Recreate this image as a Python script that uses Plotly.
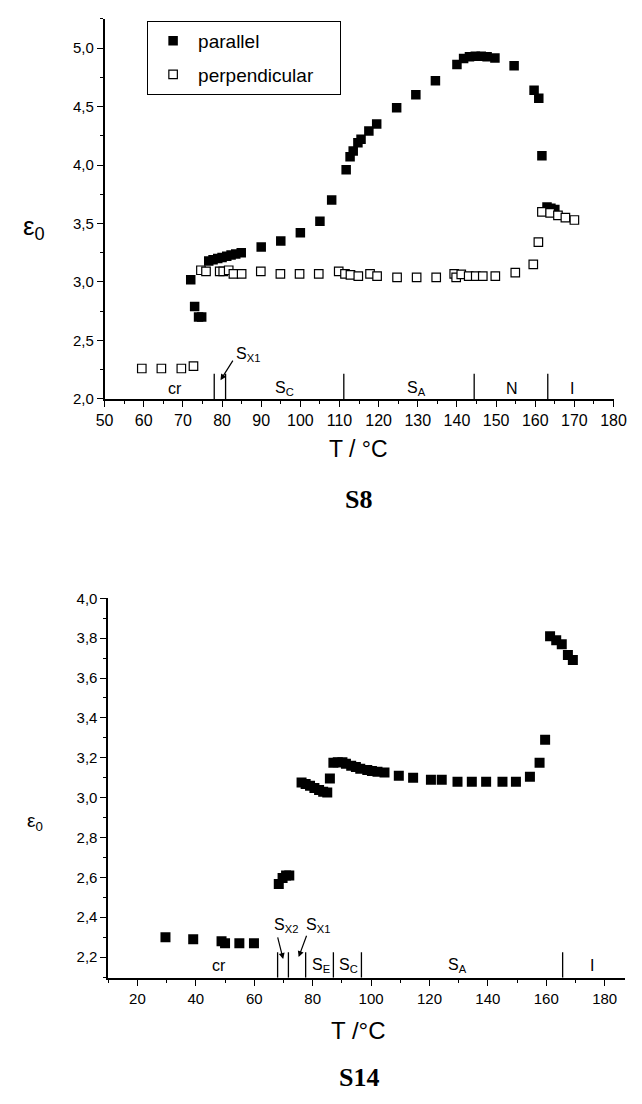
import plotly.graph_objects as go

# ---------------- data: S8 ----------------
s8_par_T = [72, 73, 74, 74.8, 76.6, 77.7, 78.9, 80.0, 81.2, 82.3, 83.5, 84.9, 90, 95, 100, 105, 108,
            111.7, 112.7, 113.5, 114.7, 115.5, 117.5, 119.5, 124.6, 129.5, 134.5, 140, 141.7, 143.2,
            144.7, 146.2, 147.7, 149.7, 154.6, 159.7, 160.9, 161.7, 163, 164, 165]
s8_par_E = [3.02, 2.79, 2.70, 2.70, 3.18, 3.19, 3.20, 3.21, 3.22, 3.23, 3.24, 3.25, 3.30, 3.35, 3.42, 3.52, 3.70,
            3.96, 4.07, 4.12, 4.19, 4.22, 4.29, 4.35, 4.49, 4.60, 4.72, 4.86, 4.91, 4.925,
            4.93, 4.93, 4.925, 4.915, 4.85, 4.64, 4.57, 4.08, 3.64, 3.63, 3.62]

s8_perp_T = [59.5, 64.5, 69.6, 72.7, 74.6, 75.9, 79.4, 80.3, 81.7, 82.9, 85.0, 89.9, 94.9, 99.8, 104.7,
             109.8, 111.4, 112.8, 114.8, 117.8, 119.6, 124.7, 129.7, 134.7, 139.3, 139.8, 141.1, 143.0,
             144.8, 146.6, 149.8, 154.9, 159.5, 160.8, 161.7, 163.8, 165.8, 167.7, 170.0]
s8_perp_E = [2.26, 2.26, 2.26, 2.28, 3.10, 3.09, 3.09, 3.09, 3.10, 3.07, 3.07, 3.09, 3.07, 3.07, 3.07,
             3.09, 3.07, 3.06, 3.05, 3.07, 3.05, 3.04, 3.04, 3.04, 3.07, 3.04, 3.065, 3.05,
             3.05, 3.05, 3.05, 3.08, 3.15, 3.34, 3.60, 3.59, 3.57, 3.55, 3.53]

s8_phase_T = [78.0, 80.9, 111.1, 144.4, 163.2]
s8_phase_labels = ["cr", "S<sub>C</sub>", "S<sub>A</sub>", "N", "I"]
s8_label_T = [68, 96, 129.7, 154, 169.3]

# ---------------- data: S14 ----------------
s14_T = [29.6, 39.1, 48.8, 50.0, 54.9, 59.9, 68.4, 69.7, 70.9, 72.0, 76.2, 77.6, 79.1, 80.6, 82.2, 83.6,
         85.0, 85.9, 87.1, 88.6, 90.2, 91.4, 93.2, 94.8, 96.3, 98.7, 100.3, 102.2, 104.6, 109.5, 114.4,
         120.5, 124.2, 129.6, 134.5, 139.4, 145.0, 149.6, 154.4, 157.7, 159.6, 161.3, 163.4, 165.3,
         167.4, 169.1]
s14_E = [2.30, 2.29, 2.28, 2.27, 2.27, 2.27, 2.567, 2.597, 2.61, 2.61, 3.076, 3.068, 3.06, 3.048, 3.038, 3.03,
         3.026, 3.096, 3.175, 3.178, 3.178, 3.17, 3.16, 3.154, 3.145, 3.139, 3.134, 3.13, 3.126, 3.11, 3.10,
         3.09, 3.09, 3.08, 3.08, 3.08, 3.08, 3.08, 3.105, 3.175, 3.29, 3.81, 3.79, 3.77,
         3.715, 3.69]

s14_phase_T = [68.0, 71.7, 77.6, 87.1, 96.7, 165.6]
s14_phase_labels = ["cr", "S<sub>E</sub>", "S<sub>C</sub>", "S<sub>A</sub>", "I"]
s14_label_T = [48, 82.9, 92.4, 129.7, 175.7]

FONT = "Liberation Sans, Arial, sans-serif"
SERIF = "Liberation Serif, Times New Roman, serif"
NB = "\u00a0"

fig = go.Figure()
fig.add_trace(go.Scatter(x=s8_par_T, y=s8_par_E, mode="markers", name="parallel",
                         marker=dict(symbol="square", size=9.5, color="black"),
                         xaxis="x", yaxis="y", legendgroup="a"))
fig.add_trace(go.Scatter(x=s8_perp_T, y=s8_perp_E, mode="markers", name="perpendicular" + NB * 4,
                         marker=dict(symbol="square", size=8.5, color="white",
                                     line=dict(color="black", width=1.2)),
                         xaxis="x", yaxis="y", legendgroup="b"))
fig.add_trace(go.Scatter(x=s14_T, y=s14_E, mode="markers", name="S14",
                         marker=dict(symbol="square", size=10, color="black"),
                         xaxis="x2", yaxis="y2", showlegend=False))

shapes = []
for t in s8_phase_T:
    shapes.append(dict(type="line", xref="x", yref="y", x0=t, x1=t, y0=2.0, y1=2.215,
                       line=dict(color="black", width=1.3)))
for t in s14_phase_T:
    shapes.append(dict(type="line", xref="x2", yref="y2", x0=t, x1=t, y0=2.096, y1=2.225,
                       line=dict(color="black", width=1.3)))

ann = []
for lab, t in zip(s8_phase_labels, s8_label_T):
    ann.append(dict(x=t, y=2.085, xref="x", yref="y", text=lab, showarrow=False,
                    font=dict(family=FONT, size=16, color="black")))
ann.append(dict(x=86.7, y=2.38, xref="x", yref="y", text="S<sub>X1</sub>", showarrow=False,
                font=dict(family=FONT, size=16, color="black")))
ann.append(dict(x=79.6, y=2.16, xref="x", yref="y", ax=83, ay=2.34, axref="x", ayref="y",
                text="", showarrow=True, arrowhead=2, arrowsize=1, arrowwidth=1.2, arrowcolor="black"))

for lab, t in zip(s14_phase_labels, s14_label_T):
    ann.append(dict(x=t, y=2.16, xref="x2", yref="y2", text=lab, showarrow=False,
                    font=dict(family=FONT, size=16, color="black")))
ann.append(dict(x=71, y=2.36, xref="x2", yref="y2", text="S<sub>X2</sub>", showarrow=False,
                font=dict(family=FONT, size=16, color="black")))
ann.append(dict(x=82, y=2.36, xref="x2", yref="y2", text="S<sub>X1</sub>", showarrow=False,
                font=dict(family=FONT, size=16, color="black")))
ann.append(dict(x=69.9, y=2.19, xref="x2", yref="y2", ax=67.9, ay=2.307, axref="x2", ayref="y2",
                text="", showarrow=True, arrowhead=2, arrowsize=1, arrowwidth=1.2, arrowcolor="black"))
ann.append(dict(x=75.2, y=2.20, xref="x2", yref="y2", ax=78.1, ay=2.315, axref="x2", ayref="y2",
                text="", showarrow=True, arrowhead=2, arrowsize=1, arrowwidth=1.2, arrowcolor="black"))

H = 1104.0
W = 642.0
def px(x):
    return x / W
def py(y):
    return 1 - y / H

def paper_text(x, y, text, family, size):
    return dict(x=px(x), y=py(y), xref="paper", yref="paper", text=text, showarrow=False,
                xanchor="center", yanchor="middle",
                font=dict(family=family, size=size, color="black"))

ann.append(paper_text(362, 447, "T / °C", FONT, 23))
ann.append(paper_text(362, 1037, "T /°C", FONT, 24))
ann.append(paper_text(362, 498, "<b>S8</b>", SERIF, 26))
ann.append(paper_text(362, 1085, "<b>S14</b>", SERIF, 26))
ann.append(paper_text(26, 222, "ε<sub>0</sub>", FONT, 26))
ann.append(paper_text(27, 826, "ε<sub>0</sub>", FONT, 19))

def axis_style(size):
    return dict(showline=True, linecolor="black", linewidth=1.5, showgrid=False, zeroline=False,
                ticks="outside", tickcolor="black", tickwidth=1.2, ticklen=6,
                tickfont=dict(family=FONT, size=size, color="black"))

fig.update_layout(
    width=642, height=1104, margin=dict(l=0, r=0, t=0, b=0),
    paper_bgcolor="white", plot_bgcolor="white", separators=",.",
    xaxis=dict(domain=[px(99), px(626)], range=[50, 180], anchor="y", tick0=0, dtick=10,
               minor=dict(dtick=5, ticklen=3, ticks="outside", tickcolor="black"), **axis_style(16)),
    yaxis=dict(domain=[py(396), py(10)], range=[2.0, 5.25], anchor="x", tick0=0, dtick=0.5,
               tickformat=".1f", minor=dict(dtick=0.25, ticklen=3, ticks="outside", tickcolor="black"),
               **axis_style(15)),
    xaxis2=dict(domain=[px(102.75), px(638)], range=[10, 187], anchor="y2", tick0=0, dtick=20,
                minor=dict(dtick=10, ticklen=3, ticks="outside", tickcolor="black"), **axis_style(15)),
    yaxis2=dict(domain=[py(984), py(598.5)], range=[2.096, 4.0], anchor="x2", tick0=0, dtick=0.2,
                tickformat=".1f", minor=dict(dtick=0.1, ticklen=3, ticks="outside", tickcolor="black"),
                **axis_style(15)),
    legend=dict(x=px(143), y=py(12), xanchor="left", yanchor="top", bgcolor="white",
                bordercolor="black", borderwidth=1, tracegroupgap=6, itemwidth=40,
                font=dict(family=FONT, size=19, color="black")),
    shapes=shapes, annotations=ann, showlegend=True,
)

fig.write_html("out.html")
